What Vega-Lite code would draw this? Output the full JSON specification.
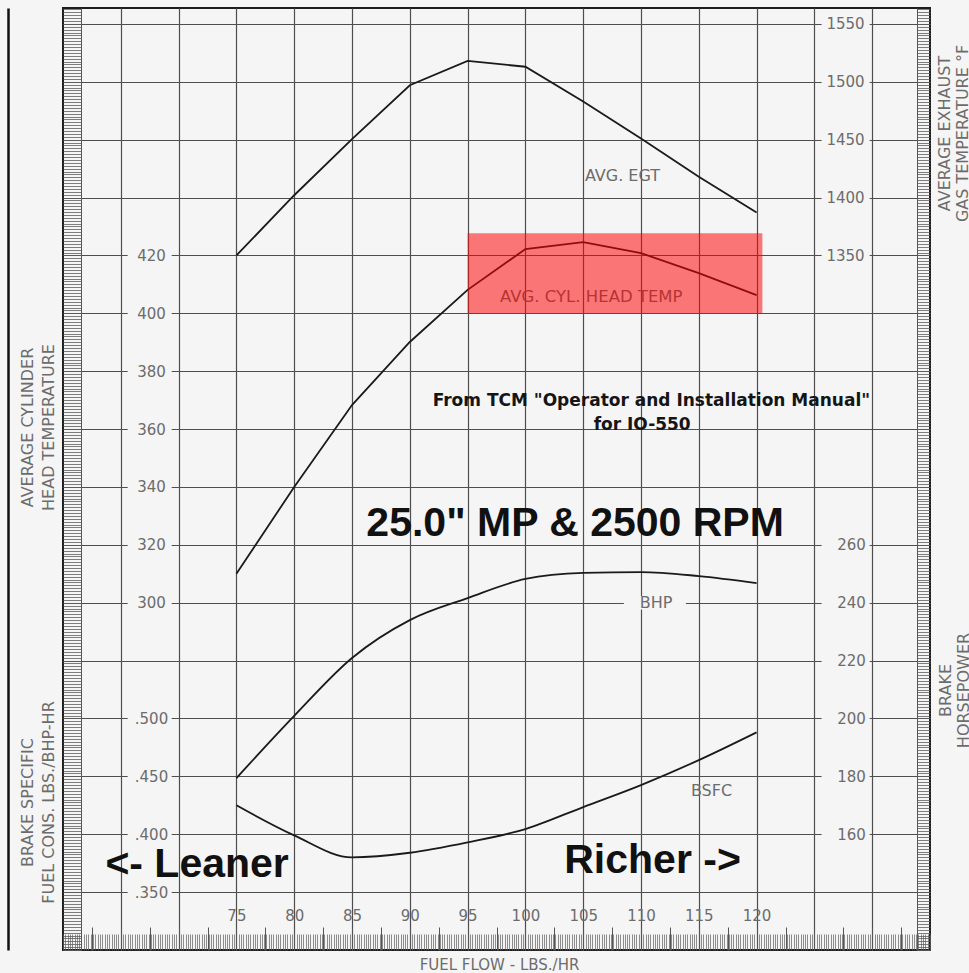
{
  "$schema": "https://vega.github.io/schema/vega-lite/v6.json",
  "width": 867,
  "height": 942,
  "autosize": {"type": "none"},
  "padding": {"left": 63, "top": 8, "right": 39, "bottom": 23},
  "background": "#f5f5f5",
  "config": {
    "view": {"stroke": "#1e1e1e", "strokeWidth": 2},
    "axis": {
      "labelFont": "DejaVu Sans", "titleFont": "DejaVu Sans",
      "labelColor": "#6c6c6c", "titleColor": "#6c6c6c", "titleFontWeight": "normal",
      "domain": false, "ticks": false, "grid": false,
      "labelOverlap": false, "labelFlush": false, "labelBound": false
    }
  },
  "datasets": {
    "curves": [
      {"ff": 75, "egt": 1350, "cht": 310, "bhp": 179.4, "bsfc": 0.425},
      {"ff": 80, "egt": 1402, "cht": 340, "bhp": 200.9, "bsfc": 0.399},
      {"ff": 85, "egt": 1450.5, "cht": 368.3, "bhp": 220.9, "bsfc": 0.380},
      {"ff": 90, "egt": 1497, "cht": 390.1, "bhp": 234.0, "bsfc": 0.384},
      {"ff": 95, "egt": 1518, "cht": 408.1, "bhp": 241.6, "bsfc": 0.393},
      {"ff": 100, "egt": 1513, "cht": 422.2, "bhp": 248.2, "bsfc": 0.4045},
      {"ff": 105, "egt": 1483, "cht": 424.6, "bhp": 250.3, "bsfc": 0.4235},
      {"ff": 110, "egt": 1451, "cht": 420.8, "bhp": 250.6, "bsfc": 0.4425},
      {"ff": 115, "egt": 1418, "cht": 413.9, "bhp": 249.2, "bsfc": 0.464},
      {"ff": 120, "egt": 1387, "cht": 406.3, "bhp": 246.8, "bsfc": 0.488}
    ]
  },
  "resolve": {"scale": {"y": "independent"}, "axis": {"x": "independent", "y": "independent"}},
  "layer": [
    {
      "data": {"name": "curves"},
      "mark": {"type": "line", "strokeOpacity": 0},
      "encoding": {
        "x": {"field": "ff", "type": "quantitative", "scale": {"domain": [60, 135], "nice": false, "zero": false},
          "axis": {"orient": "bottom", "grid": true, "values": [65,70,75,80,85,90,95,100,105,110,115,120,125,130], "gridColor": "#4e4e4e", "gridWidth": 1.2, "labels": false, "title": null, "zindex": 0}},
        "y": {"field": "cht", "type": "quantitative", "scale": {"domain": [180, 505.5], "nice": false, "zero": false},
          "axis": {"orient": "left", "grid": true, "values": [200,220,240,260,280,300,320,340,360,380,400,420,440,460,480,500], "gridColor": "#4e4e4e", "gridWidth": 1.2, "labels": false, "title": null, "zindex": 0}}
      }
    },
    {
      "data": {"name": "curves"},
      "mark": {"type": "line", "strokeOpacity": 0},
      "encoding": {
        "x": {"field": "ff", "type": "quantitative", "scale": {"domain": [60, 135], "nice": false, "zero": false},
          "axis": {"orient": "bottom", "offset": -16, "ticks": true, "tickSize": 16, "tickCount": 300, "tickColor": "#5e5e5e", "tickWidth": 0.7, "labels": false,
            "title": "FUEL FLOW - LBS./HR", "titleX": 436, "titleY": 30, "titleAlign": "center", "titleBaseline": "middle", "titleFontSize": 15, "zindex": 0}},
        "y": {"field": "cht", "type": "quantitative", "scale": {"domain": [180, 505.5], "nice": false, "zero": false},
          "axis": {"orient": "left", "offset": -18, "ticks": true, "tickSize": 18, "tickCount": 326, "tickColor": "#5e5e5e", "tickWidth": 0.8, "domain": true, "domainColor": "#555555", "labels": false, "title": null, "zindex": 0}}
      }
    },
    {
      "data": {"name": "curves"},
      "mark": {"type": "line", "strokeOpacity": 0},
      "encoding": {
        "x": {"field": "ff", "type": "quantitative", "scale": {"domain": [60, 135], "nice": false, "zero": false},
          "axis": {"orient": "bottom", "offset": -23, "ticks": true, "tickSize": 23, "values": [62.5,65,67.5,70,72.5,75,77.5,80,82.5,85,87.5,90,92.5,95,97.5,100,102.5,105,107.5,110,112.5,115,117.5,120,122.5,125,127.5,130,132.5], "tickColor": "#555555", "tickWidth": 1, "labels": false, "title": null, "zindex": 0}},
        "y": {"field": "cht", "type": "quantitative", "scale": {"domain": [180, 505.5], "nice": false, "zero": false},
          "axis": {"orient": "right", "offset": -13, "ticks": true, "tickSize": 13, "tickCount": 326, "tickColor": "#5e5e5e", "tickWidth": 0.8, "domain": true, "domainColor": "#555555", "labels": false, "title": null, "zindex": 0}}
      }
    },
    {
      "data": {"name": "curves"},
      "mark": {"type": "line", "strokeOpacity": 0},
      "encoding": {
        "x": {"field": "ff", "type": "quantitative", "scale": {"domain": [60, 135], "nice": false, "zero": false}, "axis": null},
        "y": {"field": "cht", "type": "quantitative", "scale": {"domain": [180, 505.5], "nice": false, "zero": false},
          "axis": {"orient": "left", "offset": 55, "domain": true, "domainColor": "#111111", "domainWidth": 2.5, "labels": false, "title": null, "zindex": 0}}
      }
    },
    {
      "data": {"values": [{"t": 300}, {"t": 320}, {"t": 340}, {"t": 360}, {"t": 380}, {"t": 400}, {"t": 420}]},
      "mark": {"type": "point", "shape": "M-1,-0.3L1,-0.3L1,0.3L-1,0.3Z", "size": 1936, "filled": true, "color": "#f5f5f5", "opacity": 1, "strokeWidth": 0},
      "encoding": {
        "x": {"datum": 67.5, "type": "quantitative", "scale": {"domain": [60, 135], "nice": false, "zero": false}, "axis": null},
        "y": {"field": "t", "type": "quantitative", "scale": {"domain": [180, 505.5], "nice": false, "zero": false}, "axis": null}
      }
    },
    {
      "data": {"values": [{"t": 0.35}, {"t": 0.4}, {"t": 0.45}, {"t": 0.5}]},
      "mark": {"type": "point", "shape": "M-1,-0.3L1,-0.3L1,0.3L-1,0.3Z", "size": 1936, "filled": true, "color": "#f5f5f5", "opacity": 1, "strokeWidth": 0},
      "encoding": {
        "x": {"datum": 67.5, "type": "quantitative", "scale": {"domain": [60, 135], "nice": false, "zero": false}, "axis": null},
        "y": {"field": "t", "type": "quantitative", "scale": {"domain": [0.3, 1.11375], "nice": false, "zero": false}, "axis": null}
      }
    },
    {
      "data": {"values": [{"t": 1350}, {"t": 1400}, {"t": 1450}, {"t": 1500}, {"t": 1550}]},
      "mark": {"type": "point", "shape": "M-1,-0.27L1,-0.27L1,0.27L-1,0.27Z", "size": 2304, "filled": true, "color": "#f5f5f5", "opacity": 1, "strokeWidth": 0},
      "encoding": {
        "x": {"datum": 127.7, "type": "quantitative", "scale": {"domain": [60, 135], "nice": false, "zero": false}, "axis": null},
        "y": {"field": "t", "type": "quantitative", "scale": {"domain": [750, 1563.75], "nice": false, "zero": false}, "axis": null}
      }
    },
    {
      "data": {"values": [{"t": 160}, {"t": 180}, {"t": 200}, {"t": 220}, {"t": 240}, {"t": 260}]},
      "mark": {"type": "point", "shape": "M-1,-0.27L1,-0.27L1,0.27L-1,0.27Z", "size": 2304, "filled": true, "color": "#f5f5f5", "opacity": 1, "strokeWidth": 0},
      "encoding": {
        "x": {"datum": 127.7, "type": "quantitative", "scale": {"domain": [60, 135], "nice": false, "zero": false}, "axis": null},
        "y": {"field": "t", "type": "quantitative", "scale": {"domain": [120, 445.5], "nice": false, "zero": false}, "axis": null}
      }
    },
    {
      "data": {"values": [{"t": 240}]},
      "mark": {"type": "point", "shape": "M-1,-0.22L1,-0.22L1,0.22L-1,0.22Z", "size": 3844, "filled": true, "color": "#f5f5f5", "opacity": 1, "strokeWidth": 0},
      "encoding": {
        "x": {"datum": 111.2, "type": "quantitative", "scale": {"domain": [60, 135], "nice": false, "zero": false}, "axis": null},
        "y": {"field": "t", "type": "quantitative", "scale": {"domain": [120, 445.5], "nice": false, "zero": false}, "axis": null}
      }
    },
    {
      "data": {"name": "curves"},
      "mark": {"type": "line", "color": "#1a1a1a", "strokeWidth": 1.8},
      "encoding": {
        "x": {"field": "ff", "type": "quantitative", "scale": {"domain": [60, 135], "nice": false, "zero": false}, "axis": null},
        "y": {"field": "egt", "type": "quantitative", "scale": {"domain": [750, 1563.75], "nice": false, "zero": false},
          "axis": {"orient": "right", "offset": -85, "values": [1350, 1400, 1450, 1500, 1550], "format": "d", "tickSize": 0, "labelPadding": 0, "labelAlign": "center", "labelBaseline": "middle", "labelFontSize": 15,
            "title": ["AVERAGE EXHAUST", "GAS TEMPERATURE °F"], "titleX": 99, "titleY": 125, "titleAngle": 270, "titleAlign": "center", "titleBaseline": "middle", "titleFontSize": 16, "titleLineHeight": 18, "zindex": 1}}
      }
    },
    {
      "data": {"name": "curves"},
      "mark": {"type": "line", "color": "#1a1a1a", "strokeWidth": 1.8},
      "encoding": {
        "x": {"field": "ff", "type": "quantitative", "scale": {"domain": [60, 135], "nice": false, "zero": false},
          "axis": {"orient": "bottom", "offset": -35, "values": [75, 80, 85, 90, 95, 100, 105, 110, 115, 120], "tickSize": 0, "labelPadding": 0, "labelBaseline": "middle", "labelAlign": "center", "labelFontSize": 15, "title": null, "zindex": 1}},
        "y": {"field": "cht", "type": "quantitative", "scale": {"domain": [180, 505.5], "nice": false, "zero": false},
          "axis": {"orient": "left", "offset": -88, "values": [300, 320, 340, 360, 380, 400, 420], "tickSize": 0, "labelPadding": 0, "labelAlign": "center", "labelBaseline": "middle", "labelFontSize": 15,
            "title": ["AVERAGE CYLINDER", "HEAD TEMPERATURE"], "titleX": -124, "titleY": 419, "titleAngle": 270, "titleAlign": "center", "titleBaseline": "middle", "titleFontSize": 16, "titleLineHeight": 21, "zindex": 1}}
      }
    },
    {
      "data": {"name": "curves"},
      "mark": {"type": "line", "color": "#1a1a1a", "strokeWidth": 1.8, "interpolate": "monotone"},
      "encoding": {
        "x": {"field": "ff", "type": "quantitative", "scale": {"domain": [60, 135], "nice": false, "zero": false}, "axis": null},
        "y": {"field": "bhp", "type": "quantitative", "scale": {"domain": [120, 445.5], "nice": false, "zero": false},
          "axis": {"orient": "right", "offset": -79, "values": [160, 180, 200, 220, 240, 260], "tickSize": 0, "labelPadding": 0, "labelAlign": "center", "labelBaseline": "middle", "labelFontSize": 15,
            "title": ["BRAKE", "HORSEPOWER"], "titleX": 94, "titleY": 682, "titleAngle": 270, "titleAlign": "center", "titleBaseline": "middle", "titleFontSize": 16, "titleLineHeight": 18, "zindex": 1}}
      }
    },
    {
      "data": {"name": "curves"},
      "mark": {"type": "line", "color": "#1a1a1a", "strokeWidth": 1.8, "interpolate": "monotone"},
      "encoding": {
        "x": {"field": "ff", "type": "quantitative", "scale": {"domain": [60, 135], "nice": false, "zero": false}, "axis": null},
        "y": {"field": "bsfc", "type": "quantitative", "scale": {"domain": [0.3, 1.11375], "nice": false, "zero": false},
          "axis": {"orient": "left", "offset": -88, "values": [0.35, 0.4, 0.45, 0.5], "labelExpr": "'.' + format(datum.value * 1000, 'd')", "tickSize": 0, "labelPadding": 0, "labelAlign": "center", "labelBaseline": "middle", "labelFontSize": 15,
            "title": ["BRAKE SPECIFIC", "FUEL CONS. LBS./BHP-HR"], "titleX": -124, "titleY": 794, "titleAngle": 270, "titleAlign": "center", "titleBaseline": "middle", "titleFontSize": 16, "titleLineHeight": 21, "zindex": 1}}
      }
    },
    {
      "data": {"values": [{"label": "AVG. EGT", "ff": 108.4, "egt": 1418.6}]},
      "mark": {"type": "text", "font": "DejaVu Sans", "fontSize": 16, "color": "#6c6c6c"},
      "encoding": {
        "x": {"field": "ff", "type": "quantitative", "scale": {"domain": [60, 135], "nice": false, "zero": false}, "axis": null},
        "y": {"field": "egt", "type": "quantitative", "scale": {"domain": [750, 1563.75], "nice": false, "zero": false}, "axis": null},
        "text": {"field": "label"}
      }
    },
    {
      "data": {"values": [{"label": "AVG. CYL. HEAD TEMP", "ff": 105.7, "cht": 405.5}]},
      "mark": {"type": "text", "font": "DejaVu Sans", "fontSize": 16.5, "color": "#6c6c6c"},
      "encoding": {
        "x": {"field": "ff", "type": "quantitative", "scale": {"domain": [60, 135], "nice": false, "zero": false}, "axis": null},
        "y": {"field": "cht", "type": "quantitative", "scale": {"domain": [180, 505.5], "nice": false, "zero": false}, "axis": null},
        "text": {"field": "label"}
      }
    },
    {
      "data": {"values": [{"label": "BHP", "ff": 111.3, "bhp": 240}]},
      "mark": {"type": "text", "font": "DejaVu Sans", "fontSize": 16, "color": "#6c6c6c"},
      "encoding": {
        "x": {"field": "ff", "type": "quantitative", "scale": {"domain": [60, 135], "nice": false, "zero": false}, "axis": null},
        "y": {"field": "bhp", "type": "quantitative", "scale": {"domain": [120, 445.5], "nice": false, "zero": false}, "axis": null},
        "text": {"field": "label"}
      }
    },
    {
      "data": {"values": [{"label": "BSFC", "ff": 116.1, "bsfc": 0.437}]},
      "mark": {"type": "text", "font": "DejaVu Sans", "fontSize": 16, "color": "#6c6c6c"},
      "encoding": {
        "x": {"field": "ff", "type": "quantitative", "scale": {"domain": [60, 135], "nice": false, "zero": false}, "axis": null},
        "y": {"field": "bsfc", "type": "quantitative", "scale": {"domain": [0.3, 1.11375], "nice": false, "zero": false}, "axis": null},
        "text": {"field": "label"}
      }
    },
    {
      "data": {"values": [
        {"label": "From TCM \"Operator and Installation Manual\"", "ff": 110.9, "cht": 369.7},
        {"label": "for IO-550", "ff": 110.1, "cht": 361.4}
      ]},
      "mark": {"type": "text", "font": "DejaVu Sans", "fontWeight": "bold", "fontSize": 17, "color": "#151515"},
      "encoding": {
        "x": {"field": "ff", "type": "quantitative", "scale": {"domain": [60, 135], "nice": false, "zero": false}, "axis": null},
        "y": {"field": "cht", "type": "quantitative", "scale": {"domain": [180, 505.5], "nice": false, "zero": false}, "axis": null},
        "text": {"field": "label"}
      }
    },
    {
      "data": {"values": [
        {"label": "25.0\" MP & 2500 RPM", "ff": 104.3, "cht": 327.2},
        {"label": "<- Leaner", "ff": 71.6, "cht": 209.4},
        {"label": "Richer ->", "ff": 111.0, "cht": 210.8}
      ]},
      "mark": {"type": "text", "font": "Liberation Sans", "fontWeight": "bold", "fontSize": 41, "color": "#111111"},
      "encoding": {
        "x": {"field": "ff", "type": "quantitative", "scale": {"domain": [60, 135], "nice": false, "zero": false}, "axis": null},
        "y": {"field": "cht", "type": "quantitative", "scale": {"domain": [180, 505.5], "nice": false, "zero": false}, "axis": null},
        "text": {"field": "label"}
      }
    },
    {
      "data": {"values": [{"ff1": 95, "ff2": 120.5, "c1": 400, "c2": 427.7}]},
      "mark": {"type": "rect", "color": "#ff0000", "opacity": 0.52},
      "encoding": {
        "x": {"field": "ff1", "type": "quantitative", "scale": {"domain": [60, 135], "nice": false, "zero": false}, "axis": null},
        "x2": {"field": "ff2"},
        "y": {"field": "c1", "type": "quantitative", "scale": {"domain": [180, 505.5], "nice": false, "zero": false}, "axis": null},
        "y2": {"field": "c2"}
      }
    }
  ]
}
